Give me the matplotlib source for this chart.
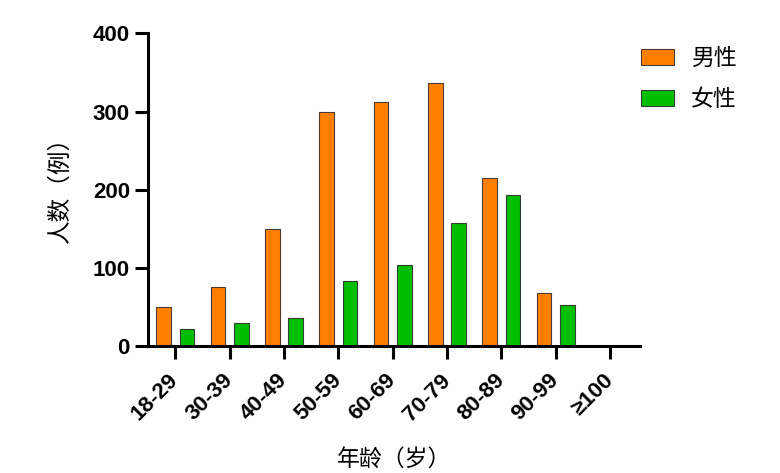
import matplotlib.pyplot as plt
import numpy as np

plt.rcParams["font.family"] = ["Liberation Sans", "Noto Sans CJK SC", "DejaVu Sans"]

# Age groups and counts
age_groups = ["18-29", "30-39", "40-49", "50-59", "60-69", "70-79", "80-89", "90-99", "≥100"]
male = [50, 76, 150, 300, 312, 336, 215, 68, 0]
female = [22, 29, 36, 83, 104, 157, 193, 53, 0]

x = np.arange(len(age_groups))
w = 0.27
off = 0.215

fig = plt.figure(figsize=(7.8, 4.73), dpi=100)
ax = fig.add_axes([148 / 780, 1 - 346 / 473, (640 - 148) / 780, (346 - 33.5) / 473])

ax.bar(x - off, male, width=w, color="#FF7F00", edgecolor="#4a3a30", linewidth=0.8, label="男性")
ax.bar(x + off, female, width=w, color="#00BF00", edgecolor="#2f3f2f", linewidth=0.8, label="女性")

ax.set_xlim(-0.5, 8.55)
ax.set_ylim(0, 400)
ax.set_yticks([0, 100, 200, 300, 400])
ax.set_xticks(x)
ax.set_xticklabels(age_groups, rotation=45, ha="right", va="center",
                   rotation_mode="anchor", fontsize=16, fontweight="bold")
for lbl in ax.get_yticklabels():
    lbl.set_fontsize(16)
    lbl.set_fontweight("bold")

for side in ["top", "right"]:
    ax.spines[side].set_visible(False)
for side in ["left", "bottom"]:
    ax.spines[side].set_linewidth(2.2)
ax.tick_params(axis="both", length=9.5, width=2.2, pad=3.5)
ax.tick_params(axis="x", pad=13)

ax.set_ylabel("人数（例）", fontsize=17, family=["Noto Sans CJK SC"])
ax.yaxis.set_label_coords(-0.156, 0.52)
ax.set_xlabel("年龄（岁）", fontsize=16.5, family=["Noto Sans CJK SC"], labelpad=17)

fig.legend(loc="upper left", bbox_to_anchor=(641 / 780, 1 - 47 / 473), frameon=False,
           prop={"family": "Noto Sans CJK SC", "size": 16.5}, borderpad=0, borderaxespad=0,
           handlelength=1.44, handleheight=0.7, handletextpad=0.74, labelspacing=0.8)

fig.savefig("out.png", dpi=100)
